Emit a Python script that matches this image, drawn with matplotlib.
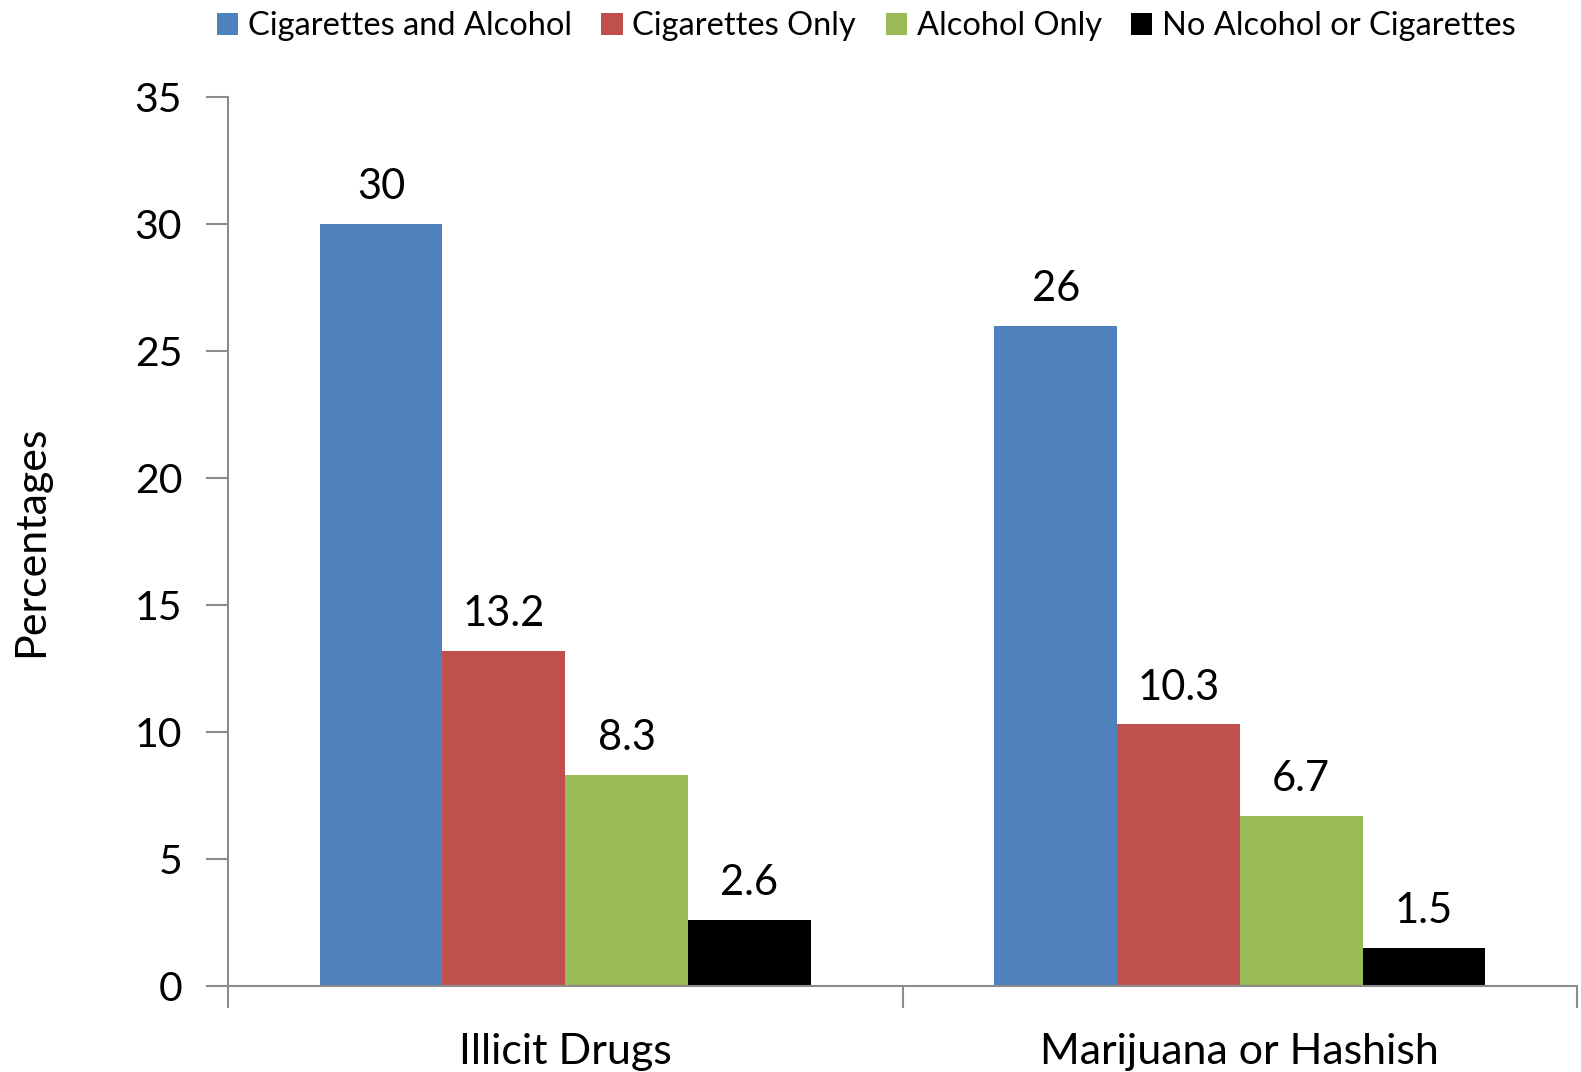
"""Grouped bar chart: drug use percentages by cigarette/alcohol use."""

import matplotlib
matplotlib.use("Agg")
import matplotlib.pyplot as plt
import numpy as np

plt.rcParams["font.family"] = ["Lato", "DejaVu Sans"]

# =========================
# DATA
# =========================
CATEGORIES = ["Illicit Drugs", "Marijuana or Hashish"]
SERIES_NAMES = [
    "Cigarettes and Alcohol",
    "Cigarettes Only",
    "Alcohol Only",
    "No Alcohol or Cigarettes",
]
VALUES = [
    [30, 26],
    [13.2, 10.3],
    [8.3, 6.7],
    [2.6, 1.5],
]
LABELS = [
    ["30", "26"],
    ["13.2", "10.3"],
    ["8.3", "6.7"],
    ["2.6", "1.5"],
]
COLORS = ["#4F81BD", "#C0504D", "#9BBB59", "#000000"]
Y_TICKS = [0, 5, 10, 15, 20, 25, 30, 35]

AXIS_COLOR = "#8C8C8C"
BAR_WIDTH = 0.182


def main() -> None:
    fig = plt.figure(figsize=(15.81, 10.72), dpi=100)
    ax = fig.add_axes([0.1442, 0.0802, 0.8533, 0.8293])

    x = np.arange(len(CATEGORIES))
    n = len(SERIES_NAMES)
    handles = []
    for i, (name, vals, labs, color) in enumerate(zip(SERIES_NAMES, VALUES, LABELS, COLORS)):
        offset = (i - (n - 1) / 2) * BAR_WIDTH
        bars = ax.bar(x + offset, vals, width=BAR_WIDTH, color=color, label=name, linewidth=0)
        handles.append(bars)
        for bar, text in zip(bars, labs):
            ax.text(bar.get_x() + bar.get_width() / 2, bar.get_height() + 0.7, text,
                    ha="center", va="bottom", fontsize=30, color="black")

    ax.set_xlim(-0.5, len(CATEGORIES) - 0.5)
    ax.set_ylim(0, 35)
    ax.set_yticks(Y_TICKS)
    ax.set_yticklabels([str(t) for t in Y_TICKS], fontsize=29.5)

    # category labels centred, separators as ticks
    ax.set_xticks(np.arange(-0.5, len(CATEGORIES)), minor=False)
    ax.set_xticklabels([])
    ax.set_xticks(x, minor=True)
    ax.set_xticklabels(CATEGORIES, minor=True, fontsize=31)
    ax.tick_params(axis="x", which="minor", length=0, pad=34)
    ax.tick_params(axis="x", which="major", length=16, width=1.5, color=AXIS_COLOR)
    ax.tick_params(axis="y", length=16, width=1.5, color=AXIS_COLOR, pad=17)

    for side in ("top", "right"):
        ax.spines[side].set_visible(False)
    for side in ("left", "bottom"):
        ax.spines[side].set_color(AXIS_COLOR)
        ax.spines[side].set_linewidth(1.5)

    ax.set_ylabel("Percentages", fontsize=31, va="center")
    ax.yaxis.set_label_coords(-0.146, 0.5)

    fig.legend(handles=handles, labels=SERIES_NAMES, loc="upper center",
               bbox_to_anchor=(0.548, 1.017), ncol=4, frameon=False,
               fontsize=23.5, handlelength=0.65, handleheight=0.65,
               handletextpad=0.3, columnspacing=0.9)

    fig.savefig("out.png", dpi=100)


if __name__ == "__main__":
    main()
